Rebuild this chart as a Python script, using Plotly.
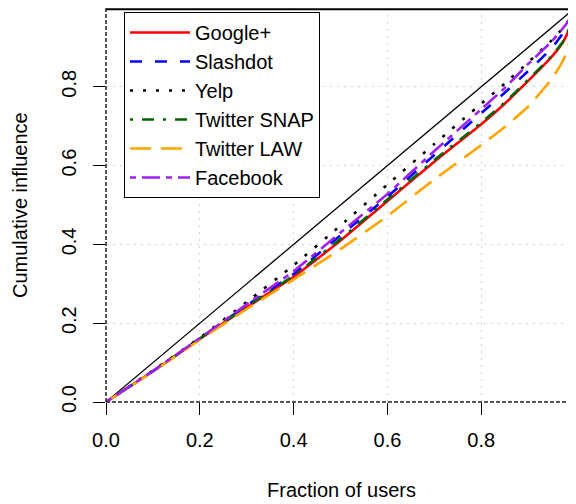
import plotly.graph_objects as go

# ---- data ----
frac_users = [0, 0.1, 0.2, 0.3, 0.4, 0.5, 0.6, 0.7, 0.8, 0.85, 0.9, 0.95, 0.975, 0.99, 0.997, 1.0]
google_plus = [0, 0.078, 0.160, 0.240, 0.318, 0.410, 0.510, 0.610, 0.705, 0.757, 0.815, 0.876, 0.915, 0.955, 0.985, 1.0]
slashdot = [0, 0.078, 0.161, 0.245, 0.325, 0.423, 0.521, 0.627, 0.733, 0.785, 0.840, 0.898, 0.937, 0.967, 0.990, 1.0]
yelp = [0, 0.080, 0.163, 0.254, 0.347, 0.448, 0.552, 0.655, 0.757, 0.808, 0.862, 0.918, 0.950, 0.975, 0.992, 1.0]
twitter_snap = [0, 0.078, 0.161, 0.242, 0.321, 0.414, 0.514, 0.614, 0.709, 0.760, 0.818, 0.878, 0.916, 0.956, 0.985, 1.0]
twitter_law = [0, 0.077, 0.158, 0.236, 0.311, 0.388, 0.472, 0.565, 0.652, 0.698, 0.750, 0.820, 0.868, 0.920, 0.965, 1.0]
facebook = [0, 0.079, 0.162, 0.248, 0.332, 0.430, 0.528, 0.637, 0.743, 0.797, 0.858, 0.915, 0.950, 0.975, 0.992, 1.0]
diag_x = [0, 1]
diag_y = [0, 1]
tick_vals = [0, 0.2, 0.4, 0.6, 0.8]
tick_text = ["0.0", "0.2", "0.4", "0.6", "0.8"]

FONT = "Liberation Sans, Arial, Helvetica, sans-serif"

series = [
    ("Google+", google_plus, "#ff0000", "solid"),
    ("Slashdot", slashdot, "#0000ff", "12px,13px"),
    ("Yelp", yelp, "#000000", "3px,10px"),
    ("Twitter SNAP", twitter_snap, "#006400", "3px,9px,12px,9px"),
    ("Twitter LAW", twitter_law, "#ffa500", "21px,10px"),
    ("Facebook", facebook, "#a020f0", "6px,6px,18px,6px"),
]

# page has an 8px body margin: figure is 568x496, plot area 470x394
W, H = 568, 496
L, R, T, B = 98, 0, 0, 102
PW, PH = W - L - R, H - T - B

fig = go.Figure()
fig.add_trace(go.Scatter(x=diag_x, y=diag_y, mode="lines",
                         line=dict(color="black", width=1.3),
                         showlegend=False, hoverinfo="skip"))
for name, vals, col, dash in series:
    fig.add_trace(go.Scatter(x=frac_users, y=vals, mode="lines", name=name,
                             line=dict(color=col, width=2.6, dash=dash,
                                       shape="spline", smoothing=0.5)))

axis_common = dict(
    tickmode="array", tickvals=tick_vals, ticktext=tick_text,
    ticks="outside", ticklen=12, tickwidth=1, tickcolor="black",
    showgrid=True, gridcolor="#d3d3d3", griddash="2px,5px", gridwidth=1,
    zeroline=False, showline=False, automargin=False,
    tickfont=dict(family=FONT, size=20, color="black"),
)

fig.update_layout(
    width=W, height=H,
    margin=dict(l=L, r=R, t=T, b=B, pad=0),
    paper_bgcolor="white", plot_bgcolor="white",
    xaxis=dict(range=[0, 1.002], ticklabelstandoff=8, **axis_common),
    yaxis=dict(range=[0, 1.0], tickangle=-90, ticklabelstandoff=9, **axis_common),
    showlegend=True,
    legend=dict(
        x=18 / PW, y=1 - 4 / PH, xanchor="left", yanchor="top",
        bordercolor="black", borderwidth=1, bgcolor="white",
        font=dict(family=FONT, size=20, color="black"),
        itemwidth=60, tracegroupgap=0,
    ),
    shapes=[
        dict(type="line", xref="paper", yref="paper", x0=0, x1=1,
             y0=1 - 1.2 / PH, y1=1 - 1.2 / PH,
             line=dict(color="black", width=2)),
        dict(type="line", xref="paper", yref="paper", x0=0, x1=0, y0=0, y1=1,
             line=dict(color="#222222", width=1.5, dash="4px,2px")),
        dict(type="line", xref="paper", yref="paper", x0=0, x1=1, y0=0, y1=0,
             line=dict(color="#222222", width=1.5, dash="4px,2px")),
    ],
    annotations=[
        dict(text="Fraction of users", xref="paper", yref="paper",
             x=0.5, y=-88 / PH, xanchor="center", yanchor="middle",
             showarrow=False, font=dict(family=FONT, size=20, color="black")),
        dict(text="Cumulative influence", xref="paper", yref="paper",
             x=-86 / PW, y=0.5, xanchor="center", yanchor="middle",
             textangle=-90, showarrow=False,
             font=dict(family=FONT, size=20, color="black")),
    ],
)

fig.write_html("out.html")
